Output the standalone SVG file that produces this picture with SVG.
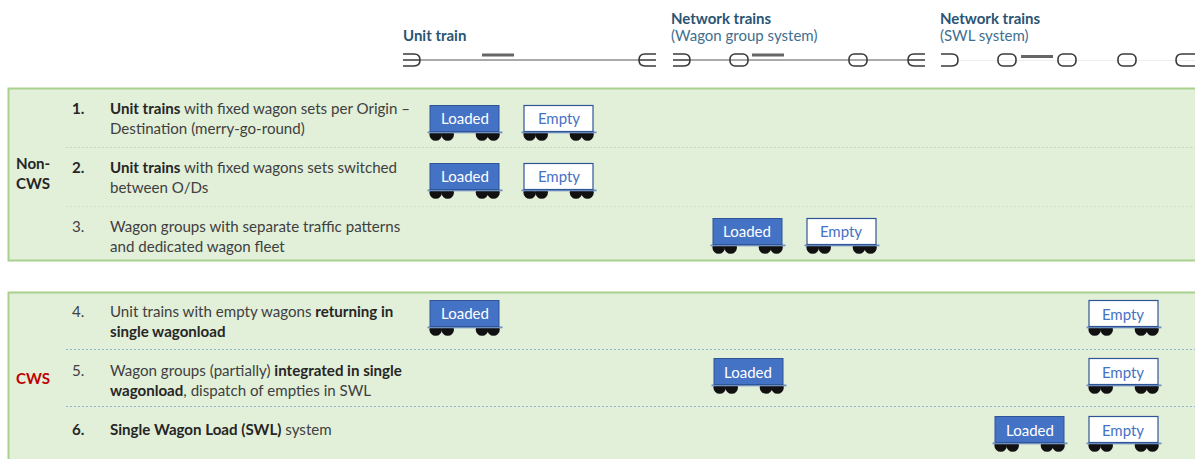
<svg xmlns="http://www.w3.org/2000/svg" width="1195" height="459" viewBox="0 0 1195 459">
<style>
text{font-family:Lato,"Open Sans","Liberation Sans",sans-serif;font-size:15.1px;fill:#404040}
.b{font-weight:700;fill:#262626}
.h{font-weight:700;fill:#2a5474;font-size:15px}
.s{fill:#3f6f8f;font-size:15px}
.lab{font-size:15px;text-anchor:middle}
.panel{fill:#e2efd9;stroke:#a9d18e;stroke-width:2}
.sep{fill:none;stroke-width:1;stroke-dasharray:2 2}
.t{fill:none;stroke:#3a3a3a;stroke-width:1.6}
.ln{stroke:#555;stroke-width:1}
.sm{fill:#666}
</style>
<defs>
<g id="under">
<g fill="#111"><circle cx="5.700" cy="29.500" r="6.300"/><circle cx="17.700" cy="29.500" r="6.300"/><circle cx="52" cy="29.500" r="6.300"/><circle cx="63.500" cy="29.500" r="6.300"/></g>
<rect x="-2.500" y="26.500" width="75" height="1.800" fill="#6f8fc0"/>
</g>
<g id="loaded"><use href="#under"/><rect x="0" y="0.500" width="69" height="26" fill="#4472c4" stroke="#2f5597"/></g>
<g id="empty"><use href="#under"/><rect x="0" y="0.500" width="69" height="26" fill="#fff" stroke="#2f5597" stroke-width="1.200"/></g>
<path id="fl" d="M0-6H11Q17-6 17 0T11 6H0M0 0H17"/>
<path id="fr" d="M17-6H6Q0-6 0 0T6 6H17M0 0H17"/>
<path id="ol" d="M5-6H14Q16-6 18-2.500Q20 0 18 2.500Q16 6 14 6H5Q3 6 1-2.500Q-1 0 1 2.500Q3 6 5 6M5-6Q3-6 1-2.500"/>
</defs>

<g id="panel-non-cws"><rect class="panel" x="8.500" y="88.500" width="1190" height="172"/></g>
<g id="panel-cws"><rect class="panel" x="8.500" y="292.500" width="1190" height="180"/></g>

<g id="connectors">
<line class="sep" x1="66" x2="1195" y1="147.500" y2="147.500" stroke="#c9d9c0"/>
<line class="sep" x1="66" x2="1195" y1="206.500" y2="206.500" stroke="#d3e3cb"/>
<line class="sep" x1="66" x2="1195" y1="349.500" y2="349.500" stroke="#8fb4cf"/>
<line class="sep" x1="66" x2="1195" y1="406.500" y2="406.500" stroke="#8fb4cf"/>
<line class="ln" x1="420" x2="639" y1="60" y2="60"/>
<line class="ln" x1="690" x2="908" y1="60" y2="60"/>
<line x1="958" x2="1195" y1="60.500" y2="60.500" stroke="#eee"/>
</g>

<g id="header-unit">
<text class="h" x="403" y="41">Unit train</text>
<use class="t" href="#fl" x="403" y="60"/><use class="t" href="#fr" x="639" y="60"/>
<rect class="sm" x="482" y="53.500" width="32" height="3"/>
</g>
<g id="header-group">
<text class="h" x="671" y="24">Network trains</text>
<text class="s" x="671" y="41">(Wagon group system)</text>
<use class="t" href="#fl" x="673" y="60"/><rect class="t" x="730" y="54" width="18" height="12" rx="5" fill="#fff"/><rect class="t" x="849" y="54" width="18" height="12" rx="5"/><use class="t" href="#fr" x="908" y="60"/>
<rect class="sm" x="752" y="53.500" width="32" height="3"/>
</g>
<g id="header-swl">
<text class="h" x="940" y="24">Network trains</text>
<text class="s" x="940" y="41">(SWL system)</text>
<path class="t" d="M941 54H952Q958 54 958 60T952 66H941"/>
<rect class="t" x="998" y="54" width="18" height="12" rx="5"/><rect class="t" x="1058" y="54" width="18" height="12" rx="5"/><rect class="t" x="1118" y="54" width="18" height="12" rx="5"/>
<path class="t" d="M1195 54H1182Q1176 54 1176 60T1182 66H1195"/>
<rect class="sm" x="1021" y="55" width="32" height="3"/>
</g>

<g id="group-labels">
<text class="b" x="16" y="169">Non-</text>
<text class="b" x="16" y="189">CWS</text>
<text class="b" x="16" y="384" style="fill:#c00000">CWS</text>
</g>

<g id="row-1">
<text class="b" x="72" y="114">1.</text>
<text x="110" y="114"><tspan class="b">Unit trains</tspan> with fixed wagon sets per Origin –</text>
<text x="110" y="134">Destination (merry-go-round)</text>
<use href="#loaded" x="430" y="105"/><text class="lab" x="465" y="124" style="fill:#fff">Loaded</text>
<use href="#empty" x="524" y="105"/><text class="lab" x="559" y="124" style="fill:#4472c4">Empty</text>
</g>
<g id="row-2">
<text class="b" x="72" y="173">2.</text>
<text x="110" y="173"><tspan class="b">Unit trains</tspan> with fixed wagons sets switched</text>
<text x="110" y="193">between O/Ds</text>
<use href="#loaded" x="430" y="163"/><text class="lab" x="465" y="182" style="fill:#fff">Loaded</text>
<use href="#empty" x="524" y="163"/><text class="lab" x="559" y="182" style="fill:#4472c4">Empty</text>
</g>
<g id="row-3">
<text x="72" y="232">3.</text>
<text x="110" y="232">Wagon groups with separate traffic patterns</text>
<text x="110" y="252">and dedicated wagon fleet</text>
<use href="#loaded" x="713" y="218"/><text class="lab" x="747" y="237" style="fill:#fff">Loaded</text>
<use href="#empty" x="807" y="218"/><text class="lab" x="841" y="237" style="fill:#4472c4">Empty</text>
</g>
<g id="row-4">
<text x="72" y="317">4.</text>
<text x="110" y="317">Unit trains with empty wagons <tspan class="b">returning in</tspan></text>
<text class="b" x="110" y="337">single wagonload</text>
<use href="#loaded" x="430" y="300"/><text class="lab" x="465" y="319" style="fill:#fff">Loaded</text>
<use href="#empty" x="1089" y="300"/><text class="lab" x="1123" y="320" style="fill:#4472c4">Empty</text>
</g>
<g id="row-5">
<text x="72" y="376">5.</text>
<text x="110" y="376">Wagon groups (partially) <tspan class="b">integrated in single</tspan></text>
<text x="110" y="396"><tspan class="b">wagonload</tspan>, dispatch of empties in SWL</text>
<use href="#loaded" x="714" y="358"/><text class="lab" x="748" y="378" style="fill:#fff">Loaded</text>
<use href="#empty" x="1089" y="358"/><text class="lab" x="1123" y="378" style="fill:#4472c4">Empty</text>
</g>
<g id="row-6">
<text class="b" x="72" y="435">6.</text>
<text x="110" y="435"><tspan class="b">Single Wagon Load (SWL)</tspan> system</text>
<use href="#loaded" x="995" y="416"/><text class="lab" x="1030" y="436" style="fill:#fff">Loaded</text>
<use href="#empty" x="1089" y="416"/><text class="lab" x="1123" y="436" style="fill:#4472c4">Empty</text>
</g>
</svg>
